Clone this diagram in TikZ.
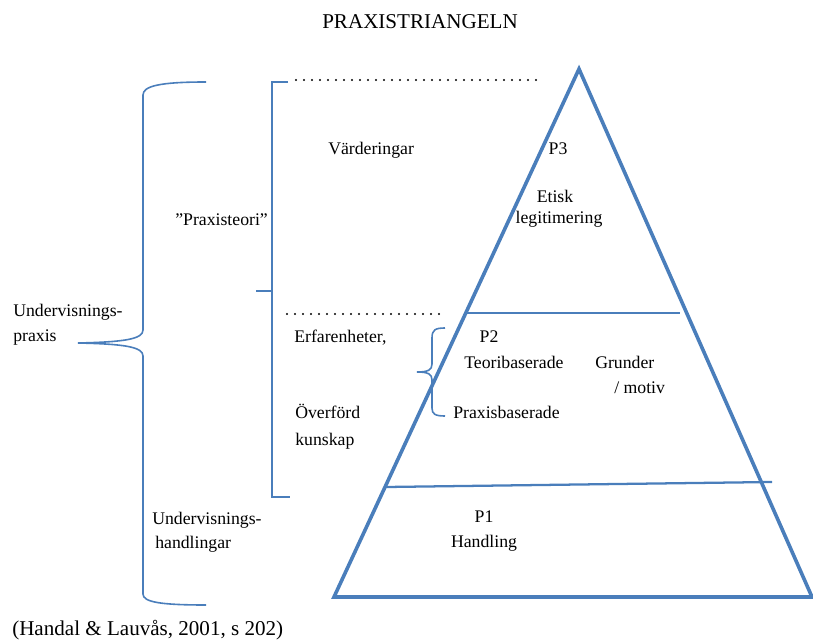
\documentclass[tikz,border=0pt]{standalone}
\usepackage{fontspec}
\setmainfont{Liberation Serif}
\usetikzlibrary{calc}
\definecolor{TriBlue}{HTML}{4A7EBB}

\begin{document}
\begin{tikzpicture}[x=0.75pt,y=-0.75pt,
  txt/.style={inner sep=0pt,anchor=base west,font=\fontsize{13.3}{16}\selectfont},
  big/.style={inner sep=0pt,font=\fontsize{15.8}{19}\selectfont},
  tri/.style={draw=TriBlue,line width=2.7pt,line join=miter},
  level/.style={draw=TriBlue,line width=1.7pt},
  brace/.style={draw=TriBlue,line width=1.2pt},
  dots/.style={line width=1.6pt,line cap=round,dash pattern=on 0pt off 6pt}
]
  \useasboundingbox (0,0) rectangle (813,641);

  % triangle and its levels
  \coordinate (apex) at (579,69);
  \coordinate (bl) at (334,597);
  \coordinate (br) at (812,597);
  \draw[tri] (apex) -- (bl) -- (br) -- cycle;
  \coordinate (lvlA) at (466,313);
  \coordinate (lvlB) at (680,313);
  \coordinate (lvlC) at (386,487);
  \coordinate (lvlD) at (772,482);
  \draw[level] (lvlA) -- (lvlB);
  \draw[level] (lvlC) -- (lvlD);

  % dotted guides
  \coordinate (dotA) at (296,80);
  \coordinate (dotB) at (538,80);
  \coordinate (dotC) at (287,314);
  \coordinate (dotD) at (442,314);
  \draw[dots] (dotA) -- (dotB);
  \draw[dots] (dotC) -- (dotD);

  % outer brace
  \coordinate (obTop) at (206,82);
  \coordinate (obTip) at (78,343);
  \coordinate (obBot) at (206,605);
  \draw[brace] (obTop) .. controls (160,82) and (143,86) .. (143,95)
    -- (143,330) .. controls (143,339) and (125,342) .. (obTip)
    .. controls (125,344) and (143,347) .. (143,356)
    -- (143,594) .. controls (143,602) and (160,605) .. (obBot);

  % inner bracket
  \coordinate (ibTop) at (288,82);
  \coordinate (ibBot) at (290,497);
  \coordinate (ibMid) at (272,291);
  \coordinate (ibTick) at (256,291);
  \draw[brace] (ibTop) -- (272,82) -- (272,497) -- (ibBot);
  \draw[brace] (ibMid) -- (ibTick);

  % small brace
  \coordinate (sbTop) at (445,328);
  \coordinate (sbTip) at (417,372);
  \coordinate (sbBot) at (445,416);
  \draw[brace] (sbTop) .. controls (435,328) and (432,330) .. (432,338)
    -- (432,364) .. controls (432,370) and (428,372) .. (sbTip)
    .. controls (428,372) and (432,374) .. (432,380)
    -- (432,408) .. controls (432,414) and (435,416) .. (sbBot);

  % texts
  \node[big,anchor=base] (title) at (420,29) {PRAXISTRIANGELN};
  \node[big,anchor=base west] (cite) at (12,635) {(Handal \& Lauvås, 2001, s 202)};

  \node[txt] (upA) at (13,316) {Undervisnings-};
  \node[txt] (upB) at (13,341) {praxis};
  \node[txt] (pteori) at (175,226) {”Praxisteori”};
  \node[txt] (uhA) at (152,524) {Undervisnings-};
  \node[txt] (uhB) at (155,548) {handlingar};

  \node[txt] (vard) at (328,155) {Värderingar};
  \node[txt] (erf) at (294,342) {Erfarenheter,};
  \node[txt] (overA) at (295,418) {Överförd};
  \node[txt] (overB) at (295,445) {kunskap};

  \node[txt,anchor=base] (pthree) at (558,155) {P3};
  \node[txt,anchor=base] (etisk) at (555,203) {Etisk};
  \node[txt,anchor=base] (legit) at (559,224) {legitimering};

  \node[txt,anchor=base] (ptwo) at (489,342) {P2};
  \node[txt] (teori) at (464,368) {Teoribaserade};
  \node[txt] (praxb) at (453,418) {Praxisbaserade};
  \node[txt] (grund) at (595,368) {Grunder};
  \node[txt] (motiv) at (614,393) {/ motiv};

  \node[txt,anchor=base] (pone) at (484,522) {P1};
  \node[txt,anchor=base] (handl) at (484,547) {Handling};
\end{tikzpicture}
\end{document}
